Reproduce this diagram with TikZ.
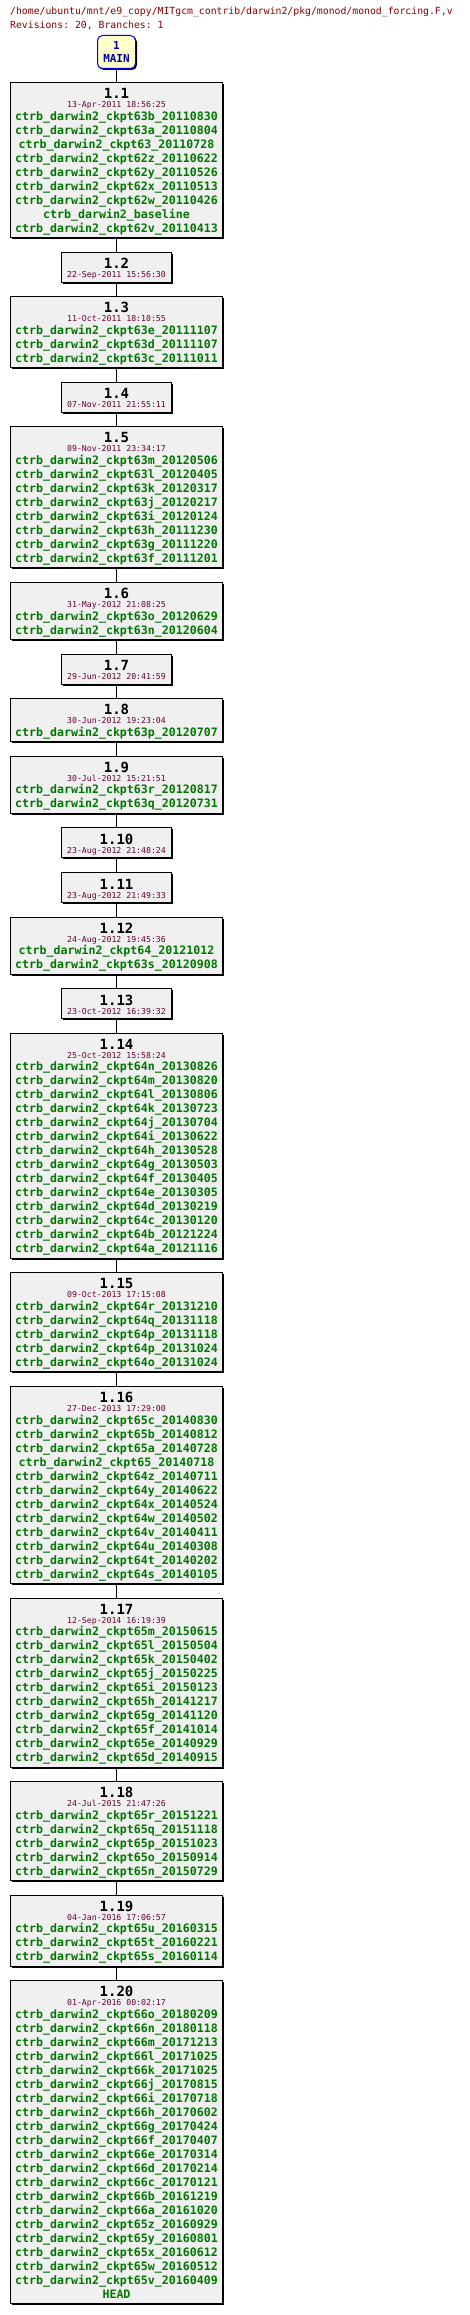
\documentclass[tikz,border=0pt]{standalone}
\usepackage{fontspec}
\setmonofont{DejaVu Sans Mono}
\usetikzlibrary{positioning,shadows}

\definecolor{revfill}{RGB}{240,240,240}
\definecolor{tagcol}{RGB}{0,119,0}
\definecolor{datecol}{RGB}{102,0,51}
\definecolor{headcol}{RGB}{136,0,0}
\definecolor{mainfill}{RGB}{255,255,204}
\definecolor{mainline}{RGB}{0,0,220}
\definecolor{maintext}{RGB}{0,0,160}

\newcommand\headfont{\ttfamily\fontsize{9.8}{9.8}\selectfont}
\newcommand\revfont{\ttfamily\bfseries\fontsize{14}{14}\selectfont}
\newcommand\datefont{\ttfamily\fontsize{8.2}{8.2}\selectfont\color{datecol}}
\newcommand\tagfont{\ttfamily\bfseries\fontsize{11.6}{11.6}\selectfont\color{tagcol}}
\newcommand\mainfont{\ttfamily\bfseries\fontsize{11}{11}\selectfont\color{maintext}}

% one centred line of fixed height, text sits on its bottom
\newcommand\revline[2]{\hbox to 0pt{\hss\vrule height #1 depth 0pt width 0pt\raisebox{0pt}[0pt][0pt]{#2}\hss}}
\newcommand\revdate[2]{\vbox{\offinterlineskip
  \revline{16pt}{\revfont #1}%
  \revline{9pt}{\datefont #2}%
  \kern4pt}}
\newcommand\revtags[3]{\vbox{\offinterlineskip
  \revline{16pt}{\revfont #1}%
  \revline{9pt}{\datefont #2}%
  \kern-1.5pt
  \foreach \tagname in {#3}{\revline{14pt}{\tagfont\tagname}}%
  \kern5.5pt}}

\tikzset{
 headtext/.style={anchor=base west,inner sep=0pt,font=\headfont,text=headcol},
 revbox/.style={draw=black,line width=1pt,fill=revfill,inner sep=0pt,
   minimum width=212pt,minimum height=30pt,
   drop shadow={shadow xshift=1.5pt,shadow yshift=-1.5pt,fill=black,opacity=1}},
 smallrev/.style={revbox,minimum width=109.5pt},
 mainbox/.style={draw=mainline,line width=1pt,fill=mainfill,rounded corners=5pt,
   inner sep=0pt,minimum width=38pt,anchor=north,
   drop shadow={shadow xshift=1.5pt,shadow yshift=-1.5pt,fill=black,opacity=1}},
 link/.style={draw=black,line width=1pt}}

\begin{document}
\begin{tikzpicture}[x=1pt,y=1pt,node distance=13.6pt]
\useasboundingbox (0,0) rectangle (470,-2315);

\node[headtext] (path) at (10,-15)
{/home/ubuntu/mnt/e9\_copy/MITgcm\_contrib/darwin2/pkg/monod/monod\_forcing.F,v};
\node[headtext] (count) at (10,-28.5) {Revisions: 20, Branches: 1};

\node[mainbox] (main) at (116.5,-35)
{\vbox{\offinterlineskip\revline{14.3pt}{\mainfont 1}\revline{13pt}{\mainfont MAIN}\kern5.7pt}};

\node[revbox,anchor=north] (v1) at (116.5,-82)
{\revtags{1.1}{13-Apr-2011 18:56:25}{ctrb\_darwin2\_ckpt63b\_20110830,ctrb\_darwin2\_ckpt63a\_20110804,ctrb\_darwin2\_ckpt63\_20110728,ctrb\_darwin2\_ckpt62z\_20110622,ctrb\_darwin2\_ckpt62y\_20110526,ctrb\_darwin2\_ckpt62x\_20110513,ctrb\_darwin2\_ckpt62w\_20110426,ctrb\_darwin2\_baseline,ctrb\_darwin2\_ckpt62v\_20110413}};
\node[smallrev,below=of v1] (v2) {\revdate{1.2}{22-Sep-2011 15:56:30}};
\node[revbox,below=of v2] (v3)
{\revtags{1.3}{11-Oct-2011 18:10:55}{ctrb\_darwin2\_ckpt63e\_20111107,ctrb\_darwin2\_ckpt63d\_20111107,ctrb\_darwin2\_ckpt63c\_20111011}};
\node[smallrev,below=of v3] (v4) {\revdate{1.4}{07-Nov-2011 21:55:11}};
\node[revbox,below=of v4] (v5)
{\revtags{1.5}{09-Nov-2011 23:34:17}{ctrb\_darwin2\_ckpt63m\_20120506,ctrb\_darwin2\_ckpt63l\_20120405,ctrb\_darwin2\_ckpt63k\_20120317,ctrb\_darwin2\_ckpt63j\_20120217,ctrb\_darwin2\_ckpt63i\_20120124,ctrb\_darwin2\_ckpt63h\_20111230,ctrb\_darwin2\_ckpt63g\_20111220,ctrb\_darwin2\_ckpt63f\_20111201}};
\node[revbox,below=of v5] (v6)
{\revtags{1.6}{31-May-2012 21:08:25}{ctrb\_darwin2\_ckpt63o\_20120629,ctrb\_darwin2\_ckpt63n\_20120604}};
\node[smallrev,below=of v6] (v7) {\revdate{1.7}{29-Jun-2012 20:41:59}};
\node[revbox,below=of v7] (v8)
{\revtags{1.8}{30-Jun-2012 19:23:04}{ctrb\_darwin2\_ckpt63p\_20120707}};
\node[revbox,below=of v8] (v9)
{\revtags{1.9}{30-Jul-2012 15:21:51}{ctrb\_darwin2\_ckpt63r\_20120817,ctrb\_darwin2\_ckpt63q\_20120731}};
\node[smallrev,below=of v9] (v10) {\revdate{1.10}{23-Aug-2012 21:48:24}};
\node[smallrev,below=of v10] (v11) {\revdate{1.11}{23-Aug-2012 21:49:33}};
\node[revbox,below=of v11] (v12)
{\revtags{1.12}{24-Aug-2012 19:45:36}{ctrb\_darwin2\_ckpt64\_20121012,ctrb\_darwin2\_ckpt63s\_20120908}};
\node[smallrev,below=of v12] (v13) {\revdate{1.13}{23-Oct-2012 16:39:32}};
\node[revbox,below=of v13] (v14)
{\revtags{1.14}{25-Oct-2012 15:58:24}{ctrb\_darwin2\_ckpt64n\_20130826,ctrb\_darwin2\_ckpt64m\_20130820,ctrb\_darwin2\_ckpt64l\_20130806,ctrb\_darwin2\_ckpt64k\_20130723,ctrb\_darwin2\_ckpt64j\_20130704,ctrb\_darwin2\_ckpt64i\_20130622,ctrb\_darwin2\_ckpt64h\_20130528,ctrb\_darwin2\_ckpt64g\_20130503,ctrb\_darwin2\_ckpt64f\_20130405,ctrb\_darwin2\_ckpt64e\_20130305,ctrb\_darwin2\_ckpt64d\_20130219,ctrb\_darwin2\_ckpt64c\_20130120,ctrb\_darwin2\_ckpt64b\_20121224,ctrb\_darwin2\_ckpt64a\_20121116}};
\node[revbox,below=of v14] (v15)
{\revtags{1.15}{09-Oct-2013 17:15:08}{ctrb\_darwin2\_ckpt64r\_20131210,ctrb\_darwin2\_ckpt64q\_20131118,ctrb\_darwin2\_ckpt64p\_20131118,ctrb\_darwin2\_ckpt64p\_20131024,ctrb\_darwin2\_ckpt64o\_20131024}};
\node[revbox,below=of v15] (v16)
{\revtags{1.16}{27-Dec-2013 17:29:00}{ctrb\_darwin2\_ckpt65c\_20140830,ctrb\_darwin2\_ckpt65b\_20140812,ctrb\_darwin2\_ckpt65a\_20140728,ctrb\_darwin2\_ckpt65\_20140718,ctrb\_darwin2\_ckpt64z\_20140711,ctrb\_darwin2\_ckpt64y\_20140622,ctrb\_darwin2\_ckpt64x\_20140524,ctrb\_darwin2\_ckpt64w\_20140502,ctrb\_darwin2\_ckpt64v\_20140411,ctrb\_darwin2\_ckpt64u\_20140308,ctrb\_darwin2\_ckpt64t\_20140202,ctrb\_darwin2\_ckpt64s\_20140105}};
\node[revbox,below=of v16] (v17)
{\revtags{1.17}{12-Sep-2014 16:19:39}{ctrb\_darwin2\_ckpt65m\_20150615,ctrb\_darwin2\_ckpt65l\_20150504,ctrb\_darwin2\_ckpt65k\_20150402,ctrb\_darwin2\_ckpt65j\_20150225,ctrb\_darwin2\_ckpt65i\_20150123,ctrb\_darwin2\_ckpt65h\_20141217,ctrb\_darwin2\_ckpt65g\_20141120,ctrb\_darwin2\_ckpt65f\_20141014,ctrb\_darwin2\_ckpt65e\_20140929,ctrb\_darwin2\_ckpt65d\_20140915}};
\node[revbox,below=of v17] (v18)
{\revtags{1.18}{24-Jul-2015 21:47:26}{ctrb\_darwin2\_ckpt65r\_20151221,ctrb\_darwin2\_ckpt65q\_20151118,ctrb\_darwin2\_ckpt65p\_20151023,ctrb\_darwin2\_ckpt65o\_20150914,ctrb\_darwin2\_ckpt65n\_20150729}};
\node[revbox,below=of v18] (v19)
{\revtags{1.19}{04-Jan-2016 17:06:57}{ctrb\_darwin2\_ckpt65u\_20160315,ctrb\_darwin2\_ckpt65t\_20160221,ctrb\_darwin2\_ckpt65s\_20160114}};
\node[revbox,below=of v19] (v20)
{\revtags{1.20}{01-Apr-2016 00:02:17}{ctrb\_darwin2\_ckpt66o\_20180209,ctrb\_darwin2\_ckpt66n\_20180118,ctrb\_darwin2\_ckpt66m\_20171213,ctrb\_darwin2\_ckpt66l\_20171025,ctrb\_darwin2\_ckpt66k\_20171025,ctrb\_darwin2\_ckpt66j\_20170815,ctrb\_darwin2\_ckpt66i\_20170718,ctrb\_darwin2\_ckpt66h\_20170602,ctrb\_darwin2\_ckpt66g\_20170424,ctrb\_darwin2\_ckpt66f\_20170407,ctrb\_darwin2\_ckpt66e\_20170314,ctrb\_darwin2\_ckpt66d\_20170214,ctrb\_darwin2\_ckpt66c\_20170121,ctrb\_darwin2\_ckpt66b\_20161219,ctrb\_darwin2\_ckpt66a\_20161020,ctrb\_darwin2\_ckpt65z\_20160929,ctrb\_darwin2\_ckpt65y\_20160801,ctrb\_darwin2\_ckpt65x\_20160612,ctrb\_darwin2\_ckpt65w\_20160512,ctrb\_darwin2\_ckpt65v\_20160409,HEAD}};

\foreach \a/\b in {main/v1,v1/v2,v2/v3,v3/v4,v4/v5,v5/v6,v6/v7,v7/v8,v8/v9,v9/v10,
  v10/v11,v11/v12,v12/v13,v13/v14,v14/v15,v15/v16,v16/v17,v17/v18,v18/v19,v19/v20}
  \draw[link] (\a) -- (\b);
\end{tikzpicture}
\end{document}
